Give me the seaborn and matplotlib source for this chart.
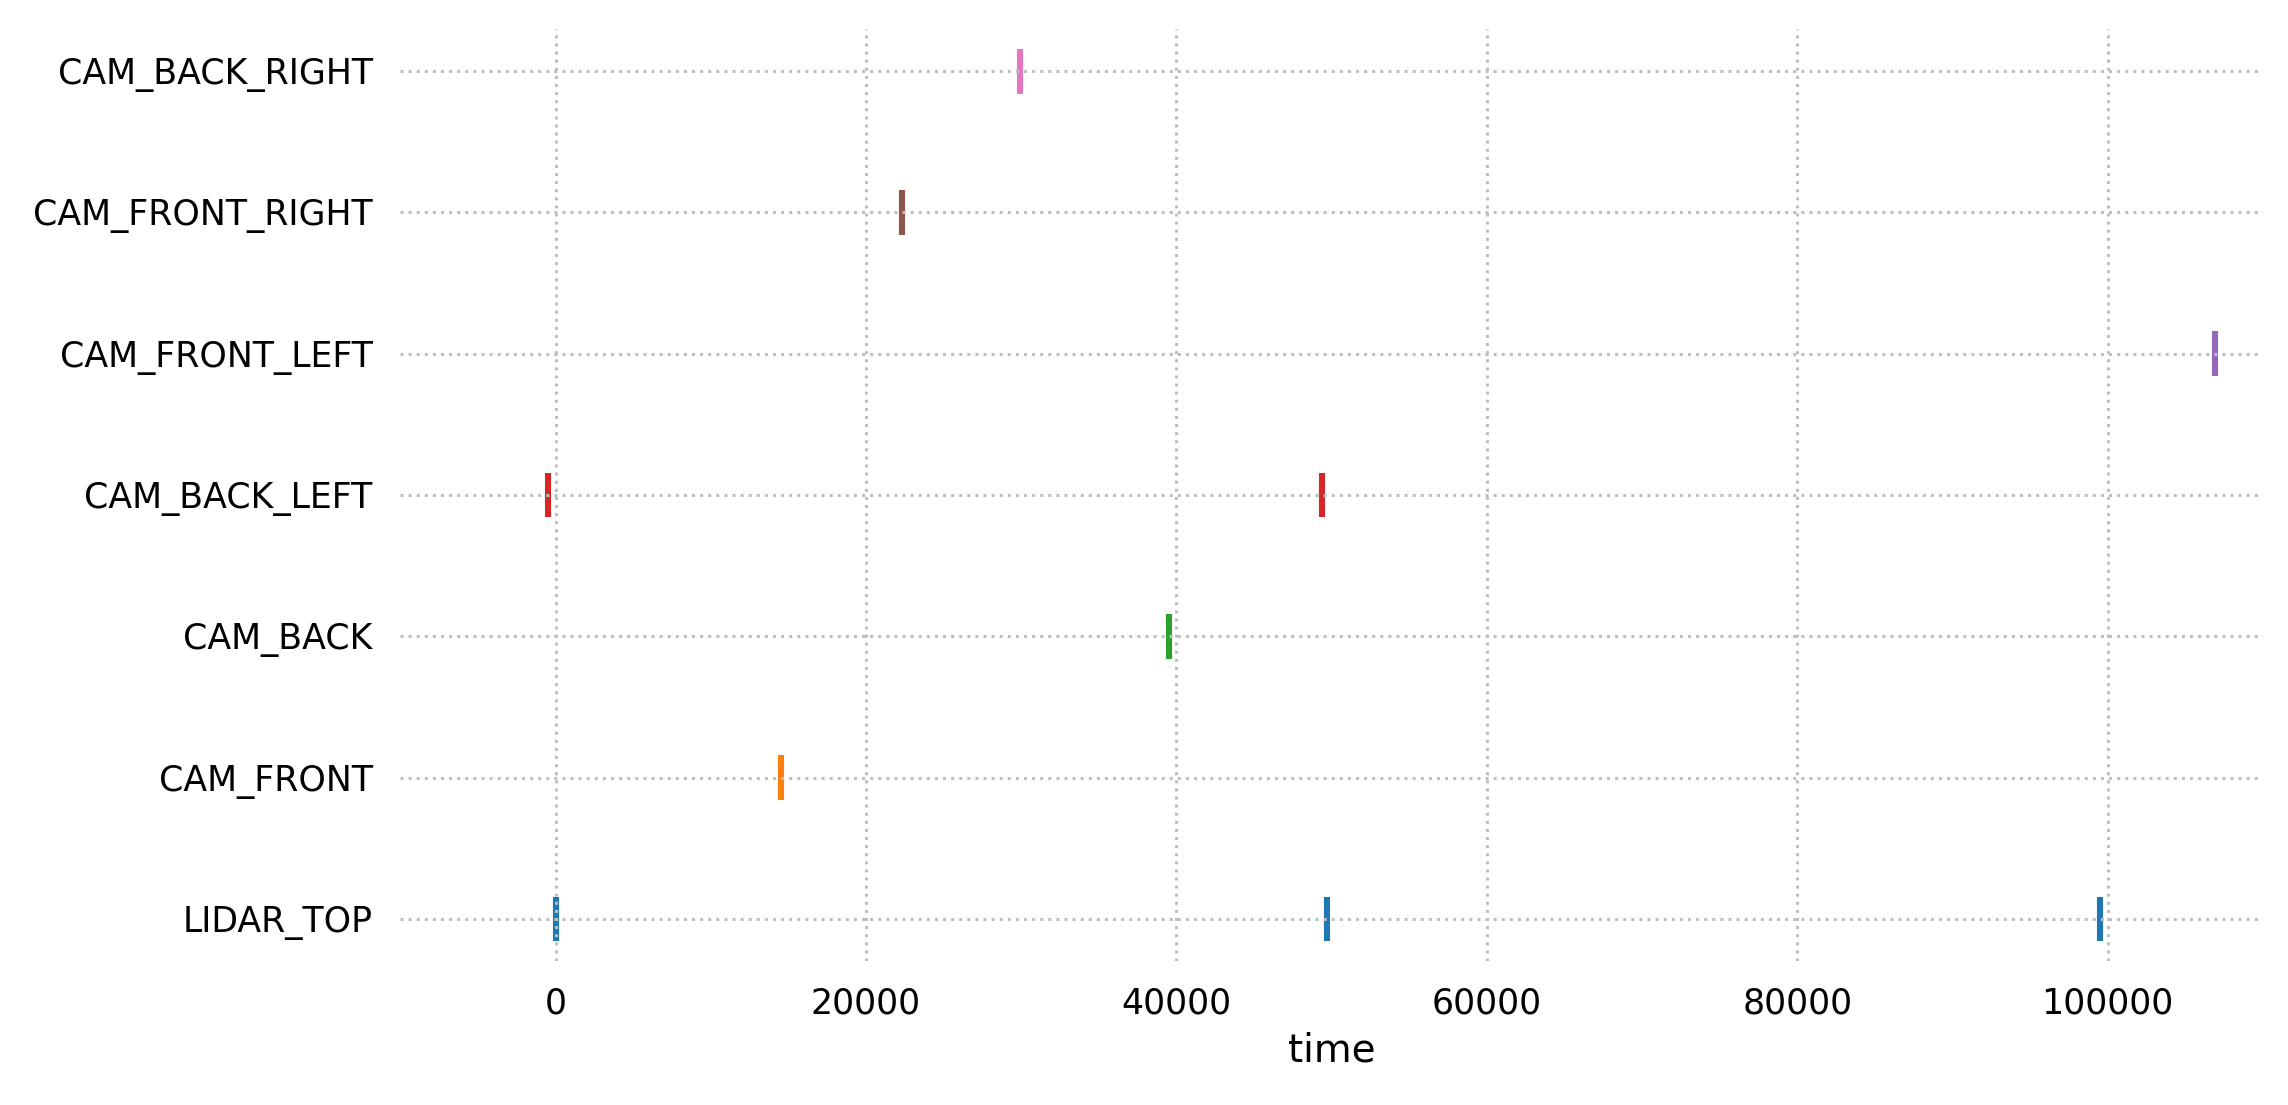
import pandas as pd
import numpy as np
import matplotlib.pyplot as plt
import seaborn as sns

# sensor channels, bottom to top
sensors = ['LIDAR_TOP', 'CAM_FRONT', 'CAM_BACK', 'CAM_BACK_LEFT',
           'CAM_FRONT_LEFT', 'CAM_FRONT_RIGHT', 'CAM_BACK_RIGHT']

# sample timestamps (microseconds)
lidar_top = [0, 49700, 99500]
cam_front = [14500]
cam_back = [39500]
cam_back_left = [-500, 49400]
cam_front_left = [106900]
cam_front_right = [22300]
cam_back_right = [29900]

times = [lidar_top, cam_front, cam_back, cam_back_left,
         cam_front_left, cam_front_right, cam_back_right]

rows = []
for name, ts in zip(sensors, times):
    for t in ts:
        rows.append({'channel': name, 'time': t})
df = pd.DataFrame(rows)

sns.set_style('white')
plt.rcParams['font.family'] = ['DejaVu Sans']
plt.rcParams['text.color'] = 'black'
plt.rcParams['axes.labelcolor'] = 'black'
plt.rcParams['xtick.color'] = 'black'
plt.rcParams['ytick.color'] = 'black'

fig, ax = plt.subplots(figsize=(11.44, 5.525), dpi=200)
fig.subplots_adjust(left=0.175, right=0.989, top=0.974, bottom=0.130)

sns.scatterplot(data=df, x='time', y='channel', hue='channel',
                hue_order=sensors, palette='tab10', marker='|',
                s=260, linewidth=2.2, legend=False, ax=ax, zorder=2)

ax.set_xlim(-10000, 110000)
ax.set_ylim(-0.3, 6.3)
ax.grid(True, linestyle=':', color='0.75', linewidth=1.1, zorder=3)
ax.set_axisbelow(False)
sns.despine(ax=ax, left=True, bottom=True)
ax.tick_params(axis='both', length=0, labelsize=12.5)
ax.tick_params(axis='y', pad=10)
ax.tick_params(axis='x', pad=9)
ax.set_ylabel('')
ax.set_xlabel('time', fontsize=14)

plt.savefig('out.png', dpi=200)
